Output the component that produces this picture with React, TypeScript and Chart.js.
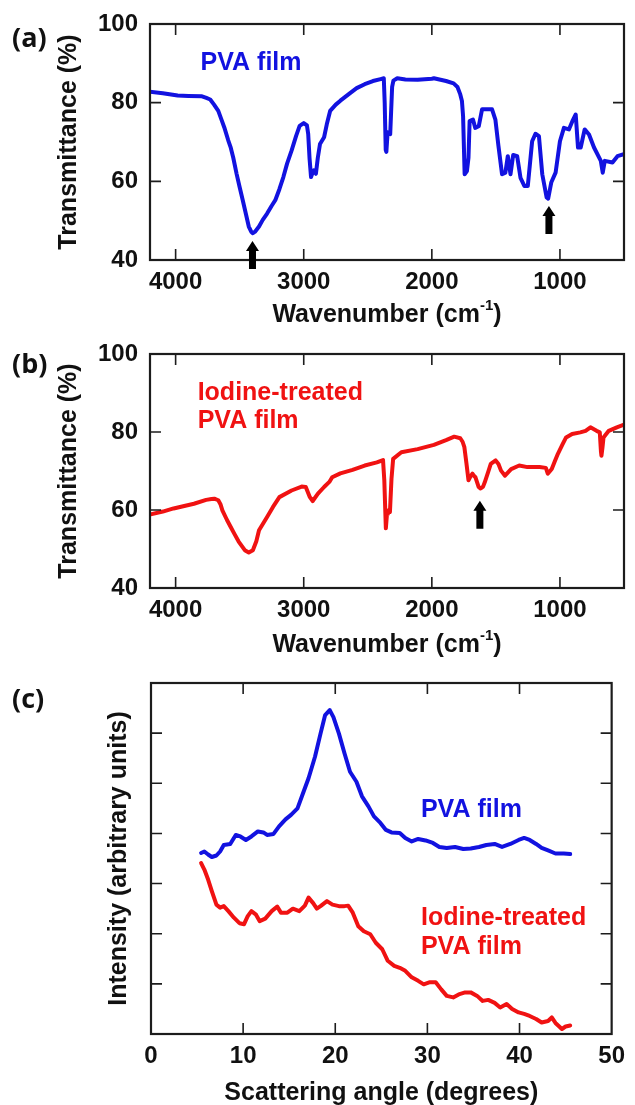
import React, { useEffect, useRef } from "react";
import { Chart, registerables } from "chart.js";
Chart.register(...registerables);

// ---------------- DATA ----------------
// (a) PVA film FTIR
const aWavenumber = [4205, 4100, 3984, 3900, 3794, 3760, 3730, 3700, 3667, 3640, 3620, 3590, 3571, 3550, 3524, 3500, 3476, 3450, 3429, 3410, 3397, 3380, 3349, 3320, 3286, 3250, 3222, 3190, 3159, 3130, 3095, 3060, 3032, 3000, 2975, 2965, 2955, 2943, 2930, 2921, 2905, 2890, 2873, 2841, 2820, 2794, 2750, 2714, 2651, 2587, 2524, 2460, 2400, 2375, 2368, 2360, 2355, 2345, 2335, 2325, 2310, 2300, 2270, 2206, 2111, 2000, 1984, 1889, 1830, 1800, 1778, 1765, 1756, 1744, 1726, 1714, 1705, 1679, 1661, 1634, 1608, 1530, 1504, 1480, 1452, 1426, 1407, 1386, 1365, 1334, 1308, 1277, 1251, 1217, 1191, 1164, 1138, 1104, 1092, 1068, 1034, 1000, 969, 930, 903, 877, 859, 838, 807, 773, 734, 681, 666, 650, 590, 551, 493];
const aTransmittance = [82.8, 82.4, 81.8, 81.7, 81.6, 81.2, 80.8, 79.5, 77.9, 75.5, 73.7, 70.5, 68.7, 66.0, 61.9, 58.5, 55.2, 51.5, 48.5, 47.2, 46.8, 47.2, 48.5, 50.2, 51.8, 53.8, 55.2, 58.0, 61.1, 64.5, 67.8, 71.5, 74.1, 74.8, 74.2, 72.0, 66.0, 61.1, 62.3, 62.8, 61.9, 66.0, 69.5, 71.2, 74.5, 77.9, 79.5, 80.5, 82.1, 83.7, 84.7, 85.5, 86.0, 86.2, 80.0, 68.0, 67.5, 72.5, 72.2, 72.0, 84.0, 85.6, 86.2, 85.9, 85.8, 86.1, 86.2, 85.5, 84.9, 84.0, 82.1, 80.4, 76.5, 61.8, 62.6, 66.0, 75.3, 75.7, 73.6, 74.0, 78.3, 78.3, 75.7, 69.0, 61.8, 62.2, 66.4, 61.8, 66.7, 66.4, 60.9, 58.8, 58.8, 70.2, 72.1, 71.5, 61.8, 55.9, 55.6, 59.7, 62.2, 70.2, 73.6, 73.2, 75.3, 77.0, 68.6, 68.6, 73.2, 71.9, 68.6, 65.2, 62.2, 65.2, 64.8, 66.4, 67.0];
const aArrowWavenumber = [3400, 1086];
const aArrowTip = [44.8, 53.7];

// (b) Iodine-treated PVA film FTIR
const bWavenumber = [4206, 4100, 4016, 3857, 3762, 3720, 3698, 3667, 3650, 3635, 3600, 3571, 3540, 3508, 3460, 3429, 3397, 3370, 3349, 3286, 3240, 3190, 3095, 3016, 2984, 2952, 2930, 2889, 2841, 2800, 2778, 2714, 2619, 2524, 2429, 2381, 2371, 2359, 2350, 2343, 2327, 2315, 2302, 2238, 2111, 1984, 1889, 1825, 1778, 1760, 1746, 1730, 1714, 1700, 1683, 1672, 1660, 1635, 1619, 1600, 1587, 1560, 1540, 1502, 1480, 1460, 1429, 1381, 1318, 1254, 1159, 1110, 1095, 1064, 1040, 1016, 980, 952, 905, 841, 800, 762, 714, 689, 680, 676, 668, 660, 619, 556, 492];
const bTransmittance = [58.8, 59.6, 60.4, 61.6, 62.6, 62.8, 62.9, 62.5, 61.5, 59.9, 57.5, 55.7, 53.8, 51.9, 49.7, 49.1, 49.7, 52.0, 54.8, 58.2, 60.8, 63.3, 65.0, 66.0, 65.9, 63.3, 62.3, 64.2, 65.9, 67.2, 68.4, 69.4, 70.3, 71.4, 72.2, 72.8, 67.6, 55.3, 59.0, 59.9, 59.5, 68.0, 73.1, 74.8, 75.6, 76.7, 77.9, 78.8, 78.4, 77.5, 76.1, 72.0, 67.6, 68.5, 69.3, 68.8, 68.4, 65.9, 65.5, 66.0, 67.1, 69.8, 71.8, 72.7, 71.8, 70.1, 68.8, 70.5, 71.4, 71.0, 71.0, 70.8, 69.3, 70.5, 72.5, 74.4, 76.8, 78.6, 79.5, 79.9, 80.3, 81.2, 80.3, 79.9, 75.0, 73.9, 76.0, 78.6, 80.3, 81.2, 82.0];
const bArrowWavenumber = [1625];
const bArrowTip = [62.4];

// (c) XRD
const cAngleBlue = [5.44, 5.79, 6.2, 6.6, 7.1, 7.5, 7.9, 8.6, 9.2, 9.7, 10.3, 10.9, 11.6, 12.2, 12.6, 13.3, 13.9, 14.6, 15.2, 15.9, 16.5, 17.1, 17.8, 18.4, 18.9, 19.4, 19.8, 20.4, 21.0, 21.6, 22.3, 22.9, 23.6, 24.2, 24.9, 25.5, 26.1, 27.0, 27.6, 28.3, 29.0, 29.8, 30.6, 31.3, 32.1, 33.0, 33.9, 34.7, 35.6, 36.4, 37.3, 38.1, 39.0, 39.9, 40.5, 41.1, 41.8, 42.4, 43.1, 43.9, 44.8, 45.5];
const cIntensityBlue = [3.61, 3.64, 3.58, 3.53, 3.56, 3.64, 3.77, 3.79, 3.97, 3.94, 3.87, 3.94, 4.04, 4.02, 3.97, 3.99, 4.14, 4.28, 4.37, 4.5, 4.8, 5.1, 5.53, 5.99, 6.36, 6.46, 6.32, 5.99, 5.6, 5.23, 5.03, 4.74, 4.54, 4.34, 4.21, 4.07, 4.02, 4.01, 3.91, 3.84, 3.89, 3.86, 3.81, 3.73, 3.71, 3.73, 3.69, 3.7, 3.73, 3.77, 3.79, 3.73, 3.79, 3.87, 3.91, 3.87, 3.79, 3.71, 3.66, 3.6, 3.6, 3.59];
const cAngleRed = [5.44, 5.79, 6.2, 6.6, 7.1, 7.5, 7.9, 8.4, 9.0, 9.6, 10.1, 10.5, 10.9, 11.4, 11.8, 12.4, 13.1, 13.7, 14.1, 14.8, 15.4, 16.1, 16.7, 17.1, 17.6, 18.0, 18.4, 19.1, 19.7, 20.4, 21.0, 21.4, 21.9, 22.5, 23.1, 23.8, 24.4, 25.1, 25.7, 26.4, 27.0, 27.6, 28.3, 29.0, 29.6, 30.2, 30.9, 31.5, 32.1, 32.8, 33.4, 34.1, 34.7, 35.4, 36.0, 36.6, 37.3, 37.9, 38.6, 39.2, 39.9, 40.5, 41.1, 41.8, 42.4, 43.1, 43.5, 43.9, 44.6, 45.0, 45.5];
const cIntensityRed = [3.41, 3.28, 3.08, 2.85, 2.58, 2.52, 2.55, 2.45, 2.32, 2.21, 2.19, 2.35, 2.45, 2.38, 2.25, 2.3, 2.45, 2.54, 2.42, 2.42, 2.5, 2.45, 2.56, 2.72, 2.61, 2.5, 2.55, 2.65, 2.58, 2.55, 2.55, 2.56, 2.42, 2.15, 2.05, 1.99, 1.82, 1.69, 1.46, 1.36, 1.32, 1.26, 1.13, 1.06, 0.99, 1.03, 1.03, 0.89, 0.76, 0.73, 0.79, 0.83, 0.83, 0.76, 0.66, 0.68, 0.62, 0.53, 0.6, 0.5, 0.43, 0.4, 0.36, 0.3, 0.23, 0.26, 0.33, 0.22, 0.1, 0.15, 0.17];

// ticks
const irTicksX = [4000, 3000, 2000, 1000];
const irTicksY = [40, 60, 80, 100];
const xrdTicksX = [0, 10, 20, 30, 40, 50];
const xrdTicksY = [0, 1, 2, 3, 4, 5, 6, 7];

// text labels (anchor in data units)
const aLabelText = ["PVA film"];
const aLabelX = [3805];
const aLabelY = [90.1];
const bLabelText = ["Iodine-treated", "PVA film"];
const bLabelX = [3828, 3828];
const bLabelY = [90.0, 82.9];
const cLabelText = ["PVA film", "Iodine-treated", "PVA film"];
const cLabelX = [29.3, 29.3, 29.3];
const cLabelY = [4.47, 2.31, 1.74];

// ---------------- STYLE ----------------
const BLUE = "#1212e0";
const RED = "#f01212";
const AXIS = "#1c1c1c";
const FONT = "'Liberation Sans', Arial, sans-serif";

const zip = (xs: number[], ys: number[]) => xs.map((x, i) => ({ x, y: ys[i] }));

type Panel = {
  top: number;
  height: number;
  chartTop: number;
  chartBottom: number;
  chartLeft: number;
  chartRight: number;
  series: { data: { x: number; y: number }[]; color: string }[];
  xMin: number;
  xMax: number;
  reverse: boolean;
  yMin: number;
  yMax: number;
  xTicks: number[];
  yTicks: number[];
  yLabels: boolean;
  yTitle: string;
  yTitlePad: number;
  xTitleParts: { t: string; sup?: boolean }[];
  xTitleFromBottom: number;
  labels: { text: string; x: number; y: number; color: string }[];
  arrows: { x: number; y: number }[];
};

const W = 635;

function PanelChart({ p }: { p: Panel }) {
  const ref = useRef<HTMLCanvasElement | null>(null);
  useEffect(() => {
    if (!ref.current) return;
    const tickFont = { family: FONT, size: 24, weight: "bold" as const, lineHeight: 1 };
    const plugin = {
      id: "frameAndNotes",
      afterDraw(chart: any) {
        const { ctx, chartArea: ca, scales } = chart;
        const xs = scales.x;
        const ys = scales.y;
        ctx.save();
        ctx.strokeStyle = AXIS;
        ctx.lineWidth = 1.6;
        const tl = 11;
        ctx.beginPath();
        for (const v of p.xTicks) {
          const px = xs.getPixelForValue(v);
          if (px < ca.left + 2 || px > ca.right - 2) continue;
          ctx.moveTo(px, ca.bottom);
          ctx.lineTo(px, ca.bottom - tl);
          ctx.moveTo(px, ca.top);
          ctx.lineTo(px, ca.top + tl);
        }
        for (const v of p.yTicks) {
          const py = ys.getPixelForValue(v);
          if (py < ca.top + 2 || py > ca.bottom - 2) continue;
          ctx.moveTo(ca.left, py);
          ctx.lineTo(ca.left + tl, py);
          ctx.moveTo(ca.right, py);
          ctx.lineTo(ca.right - tl, py);
        }
        ctx.stroke();
        ctx.lineWidth = 2.2;
        ctx.strokeRect(ca.left, ca.top, ca.right - ca.left, ca.bottom - ca.top);

        // arrows
        ctx.fillStyle = "#000";
        for (const a of p.arrows) {
          const x = xs.getPixelForValue(a.x);
          const y = ys.getPixelForValue(a.y);
          ctx.beginPath();
          ctx.moveTo(x, y);
          ctx.lineTo(x + 6.5, y + 10);
          ctx.lineTo(x + 3.5, y + 10);
          ctx.lineTo(x + 3.5, y + 28);
          ctx.lineTo(x - 3.5, y + 28);
          ctx.lineTo(x - 3.5, y + 10);
          ctx.lineTo(x - 6.5, y + 10);
          ctx.closePath();
          ctx.fill();
        }

        // labels
        ctx.font = `bold 25px ${FONT}`;
        ctx.textAlign = "left";
        ctx.textBaseline = "middle";
        for (const l of p.labels) {
          ctx.fillStyle = l.color;
          ctx.fillText(l.text, xs.getPixelForValue(l.x), ys.getPixelForValue(l.y));
        }

        // x title with superscript
        const big = `bold 25px ${FONT}`;
        const small = `bold 15px ${FONT}`;
        let total = 0;
        const widths = p.xTitleParts.map((part) => {
          ctx.font = part.sup ? small : big;
          const w = ctx.measureText(part.t).width;
          total += w;
          return w;
        });
        let x = (ca.left + ca.right) / 2 - total / 2;
        const yBase = chart.height - p.xTitleFromBottom;
        ctx.fillStyle = "#111";
        ctx.textBaseline = "middle";
        p.xTitleParts.forEach((part, i) => {
          ctx.font = part.sup ? small : big;
          ctx.fillText(part.t, x, part.sup ? yBase - 9 : yBase);
          x += widths[i];
        });
        ctx.restore();
      },
    };

    const chart = new Chart(ref.current, {
      type: "line",
      data: {
        datasets: p.series.map((s) => ({
          data: s.data,
          borderColor: s.color,
          borderWidth: 4,
          pointRadius: 0,
          tension: 0,
          fill: false,
          borderJoinStyle: "round" as const,
          borderCapStyle: "round" as const,
        })),
      },
      options: {
        responsive: false,
        animation: false,
        devicePixelRatio: 1,
        events: [],
        parsing: false as any,
        layout: {
          autoPadding: false,
          padding: { left: 0, top: p.chartTop, right: W - p.chartRight, bottom: 0 },
        },
        plugins: { legend: { display: false }, tooltip: { enabled: false }, title: { display: false } },
        scales: {
          x: {
            type: "linear",
            min: p.xMin,
            max: p.xMax,
            reverse: p.reverse,
            grid: { display: false, drawTicks: false },
            border: { display: false },
            afterBuildTicks: (s: any) => {
              s.ticks = p.xTicks.map((v) => ({ value: v }));
            },
            afterFit: (s: any) => {
              s.height = p.height - p.chartBottom;
            },
            ticks: {
              font: tickFont,
              color: "#111",
              padding: 10,
              maxRotation: 0,
              autoSkip: false,
              callback: (v: any) => String(v),
            },
          },
          y: {
            type: "linear",
            min: p.yMin,
            max: p.yMax,
            grid: { display: false, drawTicks: false },
            border: { display: false },
            afterBuildTicks: (s: any) => {
              s.ticks = p.yTicks.map((v) => ({ value: v }));
            },
            afterFit: (s: any) => {
              s.width = p.chartLeft;
            },
            ticks: {
              display: p.yLabels,
              font: tickFont,
              color: "#111",
              padding: 12,
              callback: (v: any) => String(v),
            },
            title: {
              display: true,
              text: p.yTitle,
              color: "#111",
              font: { family: FONT, size: 25, weight: "bold" as const, lineHeight: 1 },
              padding: { top: p.yTitlePad, bottom: 0 },
            },
          },
        },
      },
      plugins: [plugin],
    } as any);
    return () => chart.destroy();
  }, [p]);
  return (
    <canvas
      ref={ref}
      width={W}
      height={p.height}
      style={{ position: "absolute", left: 0, top: p.top, width: W, height: p.height, display: "block" }}
    />
  );
}

const irTitle = [{ t: "Wavenumber (cm" }, { t: "-1", sup: true }, { t: ")" }];

const panels: Panel[] = [
  {
    top: 0,
    height: 330,
    chartTop: 23,
    chartBottom: 260,
    chartLeft: 150,
    chartRight: 624,
    series: [{ data: zip(aWavenumber, aTransmittance), color: BLUE }],
    xMin: 500,
    xMax: 4200,
    reverse: true,
    yMin: 40,
    yMax: 100,
    xTicks: irTicksX,
    yTicks: irTicksY,
    yLabels: true,
    yTitle: "Transmittance (%)",
    yTitlePad: 57,
    xTitleParts: irTitle,
    xTitleFromBottom: 15,
    labels: aLabelText.map((t, i) => ({ text: t, x: aLabelX[i], y: aLabelY[i], color: BLUE })),
    arrows: aArrowWavenumber.map((x, i) => ({ x, y: aArrowTip[i] })),
  },
  {
    top: 330,
    height: 330,
    chartTop: 23,
    chartBottom: 258,
    chartLeft: 150,
    chartRight: 624,
    series: [{ data: zip(bWavenumber, bTransmittance), color: RED }],
    xMin: 500,
    xMax: 4200,
    reverse: true,
    yMin: 40,
    yMax: 100,
    xTicks: irTicksX,
    yTicks: irTicksY,
    yLabels: true,
    yTitle: "Transmittance (%)",
    yTitlePad: 57,
    xTitleParts: irTitle,
    xTitleFromBottom: 15,
    labels: bLabelText.map((t, i) => ({ text: t, x: bLabelX[i], y: bLabelY[i], color: RED })),
    arrows: bArrowWavenumber.map((x, i) => ({ x, y: bArrowTip[i] })),
  },
  {
    top: 660,
    height: 445,
    chartTop: 23,
    chartBottom: 374,
    chartLeft: 151,
    chartRight: 621,
    series: [
      { data: zip(cAngleBlue, cIntensityBlue), color: BLUE },
      { data: zip(cAngleRed, cIntensityRed), color: RED },
    ],
    xMin: 0,
    xMax: 50,
    reverse: false,
    yMin: 0,
    yMax: 7,
    xTicks: xrdTicksX,
    yTicks: xrdTicksY,
    yLabels: false,
    yTitle: "Intensity (arbitrary units)",
    yTitlePad: 107,
    xTitleParts: [{ t: "Scattering angle (degrees)" }],
    xTitleFromBottom: 12,
    labels: cLabelText.map((t, i) => ({ text: t, x: cLabelX[i], y: cLabelY[i], color: i === 0 ? BLUE : RED })),
    arrows: [],
  },
];

const panelLetters = ["(a)", "(b)", "(c)"];
const letterTops = [22, 348, 683];

export default function App() {
  return (
    <div style={{ position: "absolute", left: 0, top: 0, width: W, height: 1105, background: "#fff", overflow: "hidden" }}>
      {panels.map((p, i) => (
        <PanelChart key={i} p={p} />
      ))}
      {panelLetters.map((t, i) => (
        <div
          key={t}
          style={{
            position: "absolute",
            left: 12,
            top: letterTops[i],
            fontFamily: "'Open Sans', 'Noto Sans', sans-serif",
            fontWeight: 700,
            fontSize: 27,
            lineHeight: "30px",
            color: "#111",
          }}
        >
          {t}
        </div>
      ))}
    </div>
  );
}
